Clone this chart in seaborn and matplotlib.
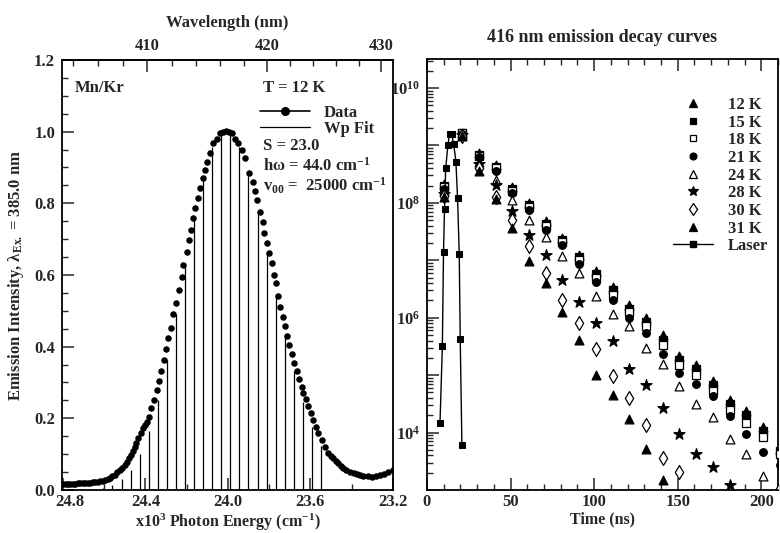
import numpy as np
import matplotlib
matplotlib.use("Agg")
import matplotlib.pyplot as plt
import matplotlib.transforms as mtransforms
import seaborn as sns
from matplotlib.lines import Line2D
from matplotlib.ticker import (MultipleLocator, FixedLocator, LogLocator,
                               FuncFormatter, NullFormatter, FormatStrFormatter)

# ---------------- data: left panel (emission spectrum) ----------------
data_energy = [24.800, 24.788, 24.776, 24.764, 24.752, 24.740, 24.728, 24.716, 24.704,
               24.692, 24.680, 24.668, 24.656, 24.644, 24.632, 24.620, 24.608, 24.596,
               24.584, 24.572, 24.560, 24.548, 24.536, 24.524, 24.512, 24.500, 24.490,
               24.480, 24.471, 24.462, 24.453, 24.444, 24.435, 24.424, 24.414, 24.404,
               24.394, 24.383, 24.373, 24.357, 24.346, 24.334, 24.325, 24.310, 24.300,
               24.289, 24.276, 24.265, 24.253, 24.236, 24.224, 24.216, 24.200, 24.189,
               24.181, 24.168, 24.160, 24.147, 24.135, 24.122, 24.111, 24.100, 24.087,
               24.071, 24.054, 24.038, 24.024, 24.009, 23.995, 23.982, 23.966, 23.950,
               23.933, 23.917, 23.896, 23.880, 23.868, 23.857, 23.844, 23.831, 23.825,
               23.812, 23.800, 23.787, 23.776, 23.767, 23.755, 23.747, 23.734, 23.723,
               23.715, 23.703, 23.690, 23.679, 23.666, 23.655, 23.642, 23.634, 23.621,
               23.610, 23.598, 23.585, 23.572, 23.561, 23.545, 23.529, 23.513, 23.500,
               23.488, 23.476, 23.464, 23.452, 23.440, 23.428, 23.407, 23.390, 23.375,
               23.360, 23.343, 23.320, 23.302, 23.280, 23.262, 23.240, 23.221, 23.200]
data_intensity = [0.018, 0.018, 0.018, 0.018, 0.018, 0.018, 0.019, 0.019, 0.019,
                  0.020, 0.020, 0.020, 0.021, 0.022, 0.023, 0.024, 0.026, 0.028,
                  0.031, 0.034, 0.038, 0.043, 0.049, 0.055, 0.062, 0.070, 0.078,
                  0.088, 0.098, 0.109, 0.120, 0.132, 0.145, 0.160, 0.172, 0.180,
                  0.190, 0.205, 0.228, 0.251, 0.279, 0.305, 0.333, 0.363, 0.393,
                  0.423, 0.451, 0.491, 0.523, 0.558, 0.595, 0.628, 0.665, 0.698,
                  0.726, 0.758, 0.786, 0.814, 0.844, 0.870, 0.893, 0.916, 0.940,
                  0.967, 0.980, 0.995, 1.000, 1.003, 1.000, 0.995, 0.980, 0.967,
                  0.949, 0.926, 0.884, 0.860, 0.833, 0.809, 0.777, 0.749, 0.716,
                  0.689, 0.660, 0.633, 0.600, 0.577, 0.540, 0.512, 0.484, 0.458,
                  0.430, 0.405, 0.380, 0.355, 0.333, 0.309, 0.287, 0.270, 0.253,
                  0.234, 0.214, 0.195, 0.177, 0.158, 0.140, 0.121, 0.104, 0.095,
                  0.088, 0.080, 0.074, 0.068, 0.062, 0.057, 0.051, 0.047, 0.044,
                  0.041, 0.039, 0.038, 0.037, 0.039, 0.042, 0.046, 0.051, 0.056]

# Wp fit sticks (vibronic progression)
stick_energy = [24.604, 24.560, 24.516, 24.472, 24.428, 24.384, 24.340, 24.296, 24.252,
                24.208, 24.164, 24.120, 24.076, 24.032, 23.988, 23.944, 23.900, 23.856,
                23.812, 23.768, 23.724, 23.680, 23.636, 23.592, 23.548]
stick_height = [0.006, 0.014, 0.030, 0.057, 0.100, 0.165, 0.252, 0.363, 0.491,
                0.627, 0.759, 0.873, 0.957, 1.000, 1.000, 0.958, 0.882, 0.780,
                0.665, 0.546, 0.433, 0.332, 0.246, 0.177, 0.123]

x_ticks_left = [24.8, 24.4, 24.0, 23.6, 23.2]
x_minor_left = [24.6, 24.2, 23.8, 23.4]
wl_ticks = [410, 420, 430]
wl_minor = [404, 406, 408, 412, 414, 416, 418, 422, 424, 426, 428]

# ---------------- data: right panel (decay curves, log10 of intensity) ----------------
decay_time = [10, 21, 31, 41, 51, 61, 71, 81, 91, 101, 111, 121, 131, 141, 151,
              161, 171, 181, 191, 201, 211]
nan = np.nan
log_12K = [8.33, 9.22, 8.87, 8.66, 8.28, 7.99, 7.68, 7.39, 7.10, 6.81, 6.54, 6.22, 6.00,
           5.70, 5.34, 5.18, 4.89, 4.57, 4.37, 4.10, 3.72]
log_15K = [8.30, 9.22, 8.84, 8.63, 8.25, 7.96, 7.64, 7.35, 7.05, 6.76, 6.48, 6.16, 5.93,
           5.62, 5.27, 5.10, 4.82, 4.50, 4.30, 4.03, 3.68]
log_18K = [8.27, 9.21, 8.81, 8.60, 8.21, 7.92, 7.59, 7.31, 7.00, 6.70, 6.40, 6.10, 5.85,
           5.52, 5.18, 5.00, 4.72, 4.40, 4.17, 3.92, 3.62]
log_21K = [8.24, 9.20, 8.79, 8.56, 8.17, 7.88, 7.53, 7.27, 6.94, 6.62, 6.30, 6.00, 5.73,
           5.37, 5.03, 4.85, 4.63, 4.28, 3.97, 3.67, 3.44]
log_24K = [8.20, 9.19, 8.72, 8.40, 8.05, 7.70, 7.41, 7.07, 6.78, 6.37, 6.07, 5.86, 5.47,
           5.19, 4.81, 4.49, 4.27, 3.89, 3.62, 3.24, 3.08]
log_28K = [8.15, 9.18, 8.68, 8.31, 7.85, 7.44, 7.10, 6.65, 6.27, 5.90, 5.59, 5.11, 4.83,
           4.42, 3.98, 3.63, 3.40, 3.08, nan, nan, nan]
log_30K = [8.12, 9.17, 8.60, 8.11, 7.70, 7.25, 6.78, 6.31, 5.91, 5.46, 4.98, 4.60, 4.13,
           3.56, 3.32, nan, nan, nan, nan, nan, nan]
log_31K = [8.10, 9.16, 8.56, 8.07, 7.56, 6.98, 6.61, 6.10, 5.61, 5.01, 4.66, 4.23, 3.72,
           3.17, nan, nan, nan, nan, nan, nan, nan]

laser_time = [7.8, 9.2, 9.9, 10.5, 11.2, 12.5, 13.5, 14.8, 16.0, 17.3, 18.3, 19.3, 19.9, 20.9]
laser_log = [4.17, 5.50, 7.15, 7.90, 8.60, 9.00, 9.20, 9.20, 9.02, 8.72, 8.09, 7.11, 5.63, 3.79]

series_labels = ["12 K", "15 K", "18 K", "21 K", "24 K", "28 K", "30 K", "31 K"]
series_values = [log_12K, log_15K, log_18K, log_21K, log_24K, log_28K, log_30K, log_31K]
series_marker = ["^", "s", "s", "o", "^", "*", "d", "^"]
series_face = ["black", "black", "white", "black", "white", "black", "white", "black"]
series_size = [40, 28, 28, 30, 40, 70, 50, 40]

# ---------------- style ----------------
sns.set_style("ticks")
plt.rcParams["font.family"] = ["Liberation Serif", "DejaVu Serif"]
plt.rcParams["font.weight"] = "bold"
plt.rcParams["axes.labelweight"] = "bold"
plt.rcParams["axes.titleweight"] = "bold"
plt.rcParams["mathtext.fontset"] = "custom"
plt.rcParams["mathtext.rm"] = "Liberation Serif:bold"
plt.rcParams["mathtext.it"] = "Liberation Serif:italic:bold"
plt.rcParams["mathtext.bf"] = "Liberation Serif:bold"
plt.rcParams["mathtext.default"] = "rm"
FS = 12

fig = plt.figure(figsize=(7.8, 5.33), dpi=100)

# ---------------- left panel ----------------
axL = fig.add_axes([0.0795, 0.0807, 0.424, 0.8068])
axL.vlines(stick_energy, 0, stick_height, color="black", lw=0.9, zorder=2)
sns.scatterplot(x=data_energy, y=data_intensity, ax=axL, s=22, color="black",
                edgecolor="black", linewidth=0, zorder=3)
axL.set_xlim(24.805, 23.2)
axL.set_ylim(0, 1.2)
axL.xaxis.set_major_locator(FixedLocator(x_ticks_left))
axL.xaxis.set_minor_locator(FixedLocator(x_minor_left))
axL.xaxis.set_major_formatter(FormatStrFormatter("%.1f"))
axL.yaxis.set_major_locator(MultipleLocator(0.2))
axL.yaxis.set_minor_locator(MultipleLocator(0.05))
axL.yaxis.set_major_formatter(FormatStrFormatter("%.1f"))
axL.tick_params(which="both", direction="in", top=False, right=False, labelsize=FS)
axL.tick_params(which="major", length=8.5, width=1.1, pad=5)
axL.tick_params(axis="x", which="major", pad=3)
axL.tick_params(which="minor", length=4.5, width=1.0)
axL.set_xlabel("x10$^{3}$ Photon Energy (cm$^{-1}$)", fontsize=11.5, labelpad=1)
axL.set_ylabel("Emission Intensity, λ$_{\\mathrm{Ex.}}$ = 385.0 nm", fontsize=FS, labelpad=6)

secax = axL.secondary_xaxis("top", functions=(lambda e: 1e4 / np.asarray(e, float),
                                              lambda w: 1e4 / np.asarray(w, float)))
secax.xaxis.set_major_locator(FixedLocator(wl_ticks))
secax.xaxis.set_minor_locator(FixedLocator(wl_minor))
secax.tick_params(which="both", direction="in", labelsize=FS)
secax.tick_params(which="major", length=8.5, width=1.1, pad=4)
secax.tick_params(which="minor", length=4.5, width=1.0)
secax.set_xlabel("Wavelength (nm)", fontsize=FS, labelpad=8)

axL.text(0.039, 0.935, "Mn/Kr", transform=axL.transAxes, ha="left", va="center", fontsize=FS)
axL.text(0.608, 0.935, "T = 12 K", transform=axL.transAxes, ha="left", va="center", fontsize=FS)
axL.text(0.608, 0.800, "S = 23.0", transform=axL.transAxes, ha="left", va="center", fontsize=FS)
axL.text(0.608, 0.753, "hω = 44.0 cm$^{-1}$", transform=axL.transAxes, ha="left",
         va="center", fontsize=FS)
axL.text(0.608, 0.707, "v$_{00}$ =  25000 cm$^{-1}$", transform=axL.transAxes, ha="left",
         va="center", fontsize=FS)
hL = [Line2D([], [], color="black", marker="o", ms=5.5, lw=1.2),
      Line2D([], [], color="black", lw=0.9)]
axL.legend(hL, ["Data", "Wp Fit"], loc="upper left", bbox_to_anchor=(0.6, 0.895),
           frameon=False, fontsize=FS, handlelength=3.0, handletextpad=0.8,
           labelspacing=0.0, borderpad=0, borderaxespad=0, numpoints=1)

# ---------------- right panel ----------------
axR = fig.add_axes([0.5474, 0.0807, 0.45, 0.8086])
handles = []
for lab, vals, m, fc, s in zip(series_labels, series_values, series_marker,
                               series_face, series_size):
    sns.scatterplot(x=decay_time, y=10 ** np.array(vals, float), ax=axR, marker=m, s=s,
                    color=fc, edgecolor="black", linewidth=0.9, zorder=3)
    handles.append(Line2D([], [], ls="none", marker=m, mfc=fc, mec="black",
                          ms=np.sqrt(s) * 0.9, mew=0.9))
sns.lineplot(x=laser_time, y=10 ** np.array(laser_log), ax=axR, color="black", lw=1.0,
             marker="s", markersize=5, markeredgecolor="black", estimator=None,
             sort=False, zorder=4)
handles.append(Line2D([], [], color="black", lw=1.0, marker="s", ms=5))

axR.set_yscale("log")
axR.set_xlim(0, 210)
axR.set_ylim(1e3, 3.2e10)
axR.xaxis.set_major_locator(MultipleLocator(50))
axR.xaxis.set_minor_locator(MultipleLocator(10))
axR.yaxis.set_major_locator(LogLocator(base=10, numticks=20))
axR.yaxis.set_minor_locator(LogLocator(base=10, subs=np.arange(2, 10), numticks=20))


def dec_fmt(v, pos):
    e = int(round(np.log10(v)))
    return f"$10^{{{e}}}$" if e % 2 == 0 else ""


axR.yaxis.set_major_formatter(FuncFormatter(dec_fmt))
axR.yaxis.set_minor_formatter(NullFormatter())
axR.tick_params(which="both", direction="in", top=True, right=False, labelsize=FS)
axR.tick_params(which="major", length=8.5, width=1.1, pad=5)
axR.tick_params(axis="x", which="major", pad=3)
axR.tick_params(which="minor", length=4.5, width=1.0)
axR.set_xlabel("Time (ns)", fontsize=11.5, labelpad=1)
axR.set_ylabel("")
axR.set_title("416 nm emission decay curves", fontsize=13, pad=12)
axR.legend(handles, series_labels + ["Laser"], loc="upper left",
           bbox_to_anchor=(0.70, 0.912), frameon=False, fontsize=FS, handlelength=2.4,
           handletextpad=0.9, labelspacing=0.1, borderpad=0, borderaxespad=0,
           numpoints=1)

for ax in (axL, axR):
    for sp in ax.spines.values():
        sp.set_linewidth(1.3)
        sp.set_color("black")
    ax.xaxis.get_offset_text().set_visible(False)
    ax.yaxis.get_offset_text().set_visible(False)
secax.spines["top"].set_linewidth(1.3)
secax.xaxis.get_offset_text().set_visible(False)

# nudge the first energy tick label right, as in the reference, so it clears "0.0"
fig.canvas.draw()
shift = mtransforms.ScaledTranslation(7 / 100, 0, fig.dpi_scale_trans)
first_tick = axL.xaxis.get_major_ticks()[0]
first_tick.label1.set_transform(first_tick.label1.get_transform() + shift)

fig.savefig("out.png", dpi=100)
